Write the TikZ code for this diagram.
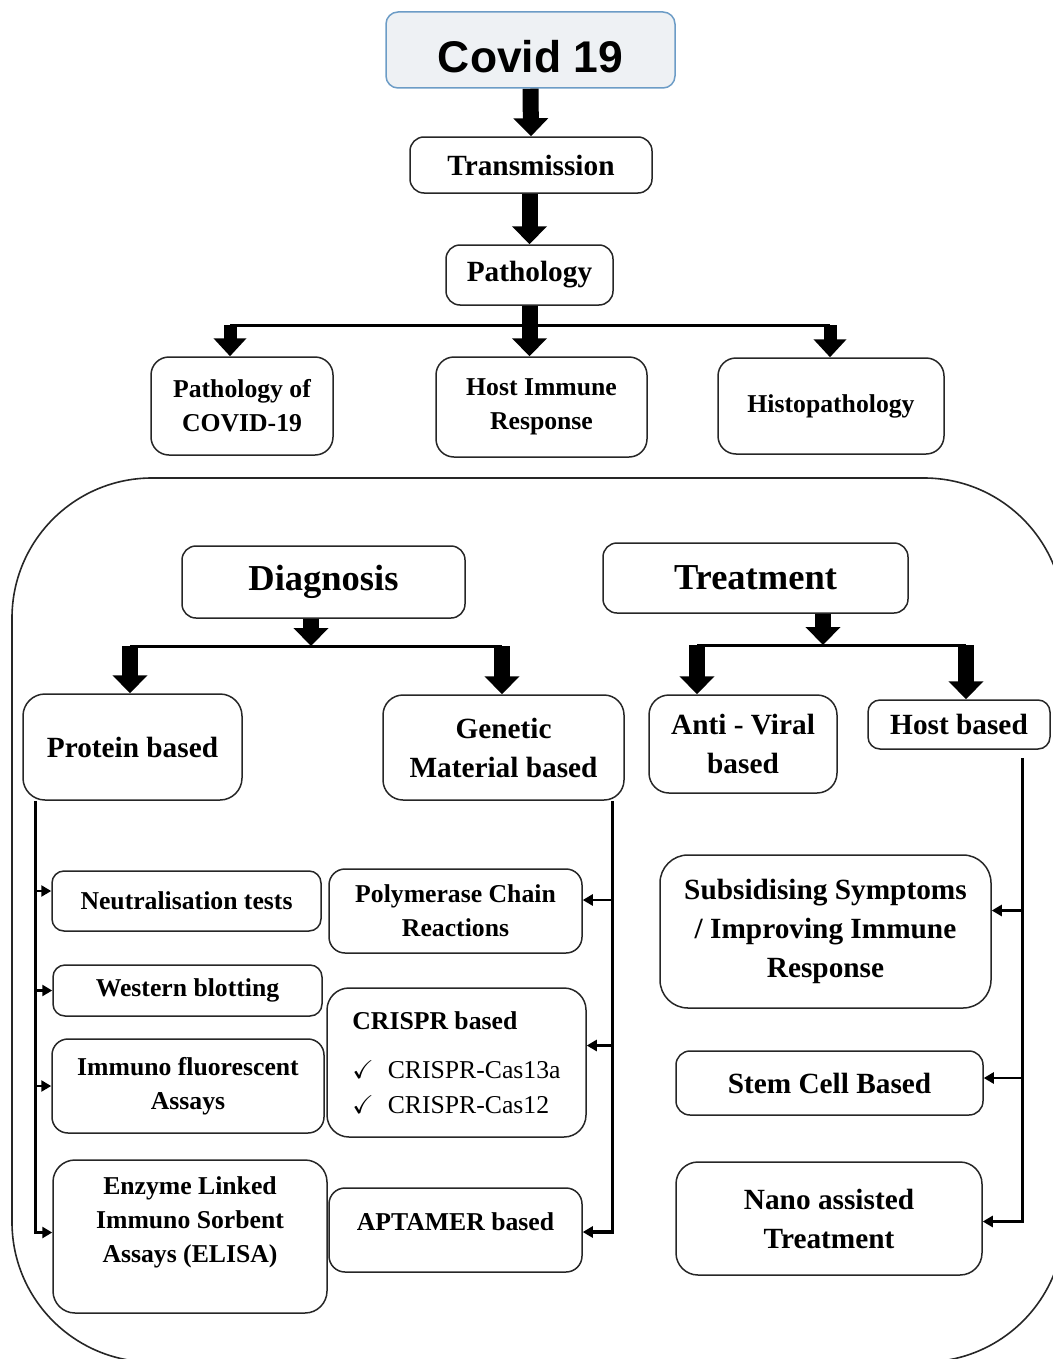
\documentclass[tikz,border=0pt]{standalone}
\usepackage{amssymb}
\usepackage{fontspec}
\setmainfont{Liberation Serif}
\newfontfamily\covidfont{Liberation Sans}
\usetikzlibrary{arrows.meta}
\definecolor{covidfill}{HTML}{EEF1F4}
\definecolor{covidline}{HTML}{6C9CC6}
\newcommand{\covidtxt}{\covidfont\fontsize{22.2}{26}\selectfont\bfseries}
\newcommand{\bigtxt}{\fontsize{18.25}{22}\selectfont\bfseries}
\newcommand{\midtxt}{\fontsize{14.65}{19.5}\selectfont\bfseries}
\newcommand{\lowtxt}{\fontsize{12.85}{17}\selectfont\bfseries}

\begin{document}
\begin{tikzpicture}[x=0.5pt,y=-0.5pt,
    bx/.style={draw=black!85,line width=0.75pt,rounded corners=7pt,inner sep=0pt,align=center},
    blockarrow/.style={line width=8pt,-{Triangle[width=17pt,length=9pt]}},
    sidearrow/.style={line width=6.5pt,-{Triangle[width=16pt,length=9pt]}},
    trunk/.style={line width=1.7pt},
    trunkarrow/.style={line width=1.7pt,-{Triangle[width=5.5pt,length=5pt]}},
    branch/.style={line width=1.2pt,-{Triangle[width=5.5pt,length=5pt]}}]
    \useasboundingbox (0,0) rectangle (1053,1359);

    \node[bx,fill=covidfill,draw=covidline,rounded corners=6pt,minimum width=144.5pt,minimum height=38pt,
        label={[font=\covidtxt,yshift=-3.5pt]center:Covid 19}] (covid) at (530.5,50) {};
    \node[bx,font=\midtxt,minimum width=121pt,minimum height=28pt] (trans) at (531,165) {Transmission};
    \node[bx,font=\midtxt,minimum width=83.5pt,minimum height=30pt] (path) at (529.5,275) {Pathology};

    \node[bx,font=\lowtxt,rounded corners=9pt,minimum width=91pt,minimum height=49pt] (pcov) at (242,406) {Pathology of\\COVID-19};
    \node[bx,font=\lowtxt,rounded corners=9pt,minimum width=105.5pt,minimum height=50pt] (hir) at (541.5,407) {Host Immune\\Response};
    \node[bx,font=\lowtxt,rounded corners=9pt,minimum width=113pt,minimum height=48pt] (histo) at (831,406) {Histopathology};

    \draw[blockarrow] (covid.south) -- (trans.north);
    \draw[blockarrow] (path.north |- trans.south) -- (path.north);
    \coordinate (pl) at (230,325);
    \coordinate (pr) at (830,325);
    \draw[trunk,line width=1.5pt] (pl) -- (pr);
    \draw[blockarrow] (path.south) -- (path.south |- hir.north);
    \draw[sidearrow] (pl) -- (pl |- pcov.north);
    \draw[sidearrow] (pr) -- (pr |- histo.north);

    \begin{scope}
        \clip (0,0) rectangle (1053,1359);
        \draw[line width=0.8pt,black!85,rounded corners=70pt] (12,478) rectangle (1064,1362);
    \end{scope}

    \node[bx,font=\bigtxt,minimum width=141.5pt,minimum height=36pt] (diag) at (323.5,582) {Diagnosis};
    \node[bx,font=\bigtxt,minimum width=152.5pt,minimum height=35pt] (treat) at (755.5,578) {Treatment};

    \node[bx,font=\midtxt,rounded corners=11pt,minimum width=109.5pt,minimum height=53pt] (prot) at (132.5,747) {Protein based};
    \node[bx,font=\midtxt,rounded corners=10pt,minimum width=120.5pt,minimum height=52.5pt] (gene) at (503.5,747.5) {Genetic\\Material based};
    \node[bx,font=\midtxt,rounded corners=10pt,minimum width=94pt,minimum height=49pt] (anti) at (743,744) {Anti - Viral\\based};
    \node[bx,font=\midtxt,rounded corners=6pt,minimum width=91pt,minimum height=24.5pt] (host) at (959,724.5) {Host based};

    \coordinate (dl) at (130,646);
    \coordinate (dm) at (311,646);
    \coordinate (dr) at (502,646);
    \draw[trunk,line width=1.5pt] (dl) -- (dr);
    \draw[blockarrow] (dm |- diag.south) -- (dm);
    \draw[blockarrow] (dl) -- (dl |- prot.north);
    \draw[blockarrow] (dr) -- (dr |- gene.north);

    \coordinate (tl) at (697,645);
    \coordinate (tm) at (823,645);
    \coordinate (tr) at (966,645);
    \draw[trunk,line width=1.5pt] (tl) -- (tr);
    \draw[blockarrow] (tm |- treat.south) -- (tm);
    \draw[blockarrow] (tl) -- (tl |- anti.north);
    \draw[blockarrow] (tr) -- (tr |- host.north);

    \node[bx,font=\lowtxt,rounded corners=6pt,minimum width=134.5pt,minimum height=30pt] (neut) at (186.5,901) {Neutralisation tests};
    \node[bx,font=\lowtxt,rounded corners=6pt,minimum width=134.5pt,minimum height=25.5pt] (west) at (187.5,990.5) {Western blotting};
    \node[bx,font=\lowtxt,rounded corners=8pt,minimum width=136pt,minimum height=47pt] (immu) at (188,1086) {Immuno fluorescent\\Assays};
    \node[bx,rounded corners=11pt,minimum width=137pt,minimum height=76.5pt,
        label={[font=\lowtxt,align=center,yshift=7pt]center:{Enzyme Linked\\Immuno Sorbent\\Assays (ELISA)}}] (elisa) at (190,1236.5) {};

    \node[bx,font=\lowtxt,rounded corners=8pt,minimum width=126.5pt,minimum height=42pt] (pcr) at (455.5,911) {Polymerase Chain\\Reactions};
    \node[bx,align=left,font=\fontsize{12.85}{17.5}\selectfont,rounded corners=11pt,minimum width=129.5pt,minimum height=74.5pt] (crispr) at (456.5,1062.5)
        {\textbf{CRISPR based}\\[7pt]$\checkmark$\hspace{7pt}CRISPR-Cas13a\\$\checkmark$\hspace{7pt}CRISPR-Cas12};
    \node[bx,rounded corners=8pt,minimum width=126.5pt,minimum height=42pt,
        label={[font=\lowtxt,yshift=4pt]center:APTAMER based}] (apt) at (455.5,1230) {};

    \node[bx,font=\midtxt,rounded corners=14pt,minimum width=165.5pt,minimum height=76.5pt] (subs) at (825.5,931.5) {Subsidising Symptoms\\/ Improving Immune\\Response};
    \node[bx,font=\midtxt,rounded corners=7pt,minimum width=153.5pt,minimum height=32pt] (stem) at (829.5,1083) {Stem Cell Based};
    \node[bx,font=\midtxt,rounded corners=11pt,minimum width=153pt,minimum height=56.5pt] (nano) at (829,1218.5) {Nano assisted\\Treatment};

    \coordinate (pt) at ([xshift=6.5pt]prot.south west);
    \draw[trunkarrow] (pt) |- ([yshift=2pt]elisa.west);
    \coordinate (neutin) at ([yshift=5pt]neut.west);
    \draw[branch] (pt |- neutin) -- (neutin);
    \draw[branch] (pt |- west.west) -- (west.west);
    \draw[branch] (pt |- immu.west) -- (immu.west);

    \coordinate (gt) at ([xshift=-6pt]gene.south east);
    \draw[trunkarrow] (gt) |- ([yshift=-1pt]apt.east);
    \coordinate (pcrin) at ([yshift=5.5pt]pcr.east);
    \draw[branch] (gt |- pcrin) -- (pcrin);
    \coordinate (crin) at ([yshift=8.5pt]crispr.east);
    \draw[branch] (gt |- crin) -- (crin);

    \coordinate (ht) at ([xshift=-14pt,yshift=-4pt]host.south east);
    \draw[trunkarrow] (ht) |- ([yshift=-1.5pt]nano.east);
    \coordinate (subin) at ([yshift=10.5pt]subs.east);
    \draw[branch] (ht |- subin) -- (subin);
    \coordinate (stemin) at ([yshift=2.5pt]stem.east);
    \draw[branch] (ht |- stemin) -- (stemin);
\end{tikzpicture}
\end{document}
